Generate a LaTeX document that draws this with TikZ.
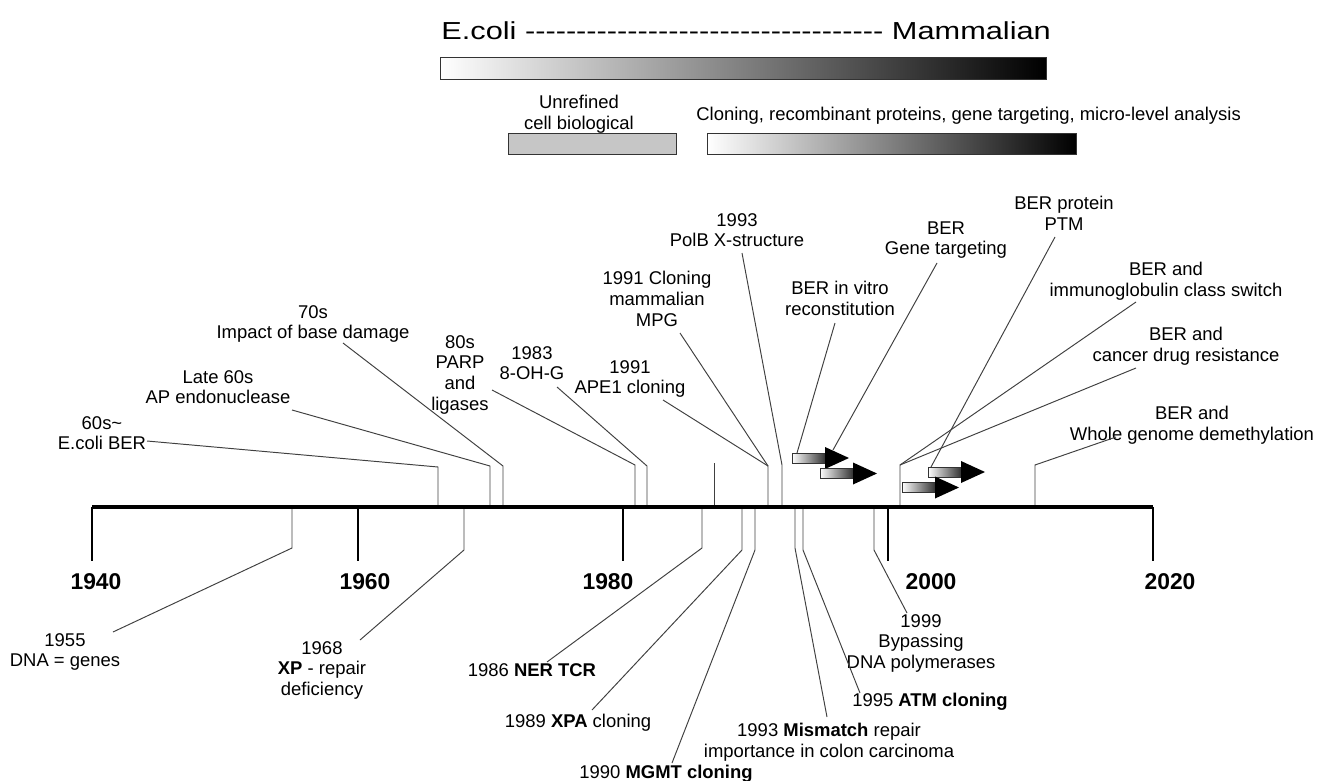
\documentclass[tikz,border=0pt]{standalone}
\usepackage{fontspec}
\usepackage{graphicx}
\setmainfont{Liberation Sans}
\newcommand\dashrow[1]{\foreach \i in {1,...,#1}{\hbox{-}}}

\begin{document}
\begin{tikzpicture}[x=0.02cm, y=-0.02cm,
  lbl/.style={align=center, inner sep=0pt, anchor=north, font=\fontsize{10.5}{11.8}\selectfont},
  yr/.style={inner sep=0pt, font=\fontsize{13}{15}\selectfont\bfseries},
  lead/.style={draw=black!75, line width=0.55pt},
  tickmark/.style={line width=1.1pt},
  gbar/.style={left color=white, right color=black, draw=black!80, line width=0.5pt},
  shaft/.style={left color=white, right color=black!80, draw=black!80, line width=0.4pt}]
  \useasboundingbox (0,0) rectangle (1319,781);

  \node[anchor=base west, inner sep=0pt, font=\fontsize{14}{17}\selectfont] (title) at (441,39) {\scalebox{1.25}[1]{E.coli \dashrow{35} Mammalian}};
  \shade[gbar] (440,57) rectangle (1046,79);
  \node[lbl] (lUnref) at (579,95) {Unrefined\\cell biological};
  \fill[gray!45, draw=black!80, line width=0.5pt] (508,133) rectangle (676,154);
  \node[lbl, anchor=west] (lClone) at (696,116) {Cloning, recombinant proteins, gene targeting, micro-level analysis};
  \shade[gbar] (707,133) rectangle (1076,154);

  \coordinate (y1940) at (92,507);
  \coordinate (y2020) at (1153,507);
  \foreach \yr/\x/\lx in {1940/92/96, 1960/358/365, 1980/623/608, 2000/888/931, 2020/1153/1170} {
    \draw[tickmark] (\x,507) -- (\x,561);
    \node[yr] (t\yr) at (\lx,582) {\yr};
  }

  \node[lbl] (lEcoli) at (102,416) {60s\textasciitilde\\E.coli BER};
  \node[lbl] (lAP) at (218,370) {Late 60s\\AP endonuclease};
  \node[lbl] (l70s) at (313,305) {70s\\Impact of base damage};
  \node[lbl] (l80s) at (460,335) {80s\\PARP\\and\\ligases};
  \node[lbl] (l1983) at (532,346) {1983\\8-OH-G};
  \node[lbl] (lAPE) at (630,360) {1991\\APE1 cloning};
  \node[lbl] (lMPG) at (657,271) {1991 Cloning\\mammalian\\MPG};
  \node[lbl] (lPolB) at (737,213) {1993\\PolB X-structure};
  \node[lbl] (lVitro) at (840,281) {BER in vitro\\reconstitution};
  \node[lbl] (lTarget) at (946,221) {BER\\Gene targeting};
  \node[lbl] (lPTM) at (1064,196) {BER protein\\PTM};
  \node[lbl] (lImmuno) at (1166,262) {BER and\\immunoglobulin class switch};
  \node[lbl] (lDrug) at (1186,327) {BER and\\cancer drug resistance};
  \node[lbl] (lDemeth) at (1192,406) {BER and\\Whole genome demethylation};

  \node[lbl] (lDNA) at (65,633) {1955\\DNA = genes};
  \node[lbl] (lXP) at (322,641) {1968\\\textbf{XP} - repair\\deficiency};
  \node[lbl] (lNER) at (532,663) {1986 \textbf{NER TCR}};
  \node[lbl] (lXPA) at (578,714) {1989 \textbf{XPA} cloning};
  \node[lbl] (lMGMT) at (666,765) {1990 \textbf{MGMT cloning}};
  \node[lbl] (lMMR) at (829,723) {1993 \textbf{Mismatch} repair\\importance in colon carcinoma};
  \node[lbl] (lATM) at (930,693) {1995 \textbf{ATM cloning}};
  \node[lbl] (lBypass) at (921,614) {1999\\Bypassing\\DNA polymerases};

  \coordinate (sEcoli) at (147,441);  \coordinate (kEcoli) at (438,467);
  \coordinate (sAP) at (292,410);     \coordinate (kAP) at (490,466);
  \coordinate (s70s) at (343,343);    \coordinate (k70s) at (503,466);
  \coordinate (s80s) at (492,390);    \coordinate (k80s) at (635,465);
  \coordinate (s1983) at (557,387);   \coordinate (k1983) at (647,466);
  \coordinate (sAPE) at (663,400);    \coordinate (kMPG) at (768,466);
  \coordinate (sMPG) at (680,333);    \coordinate (kLone) at (714,463);
  \coordinate (sPolB) at (742,253);   \coordinate (kPolB) at (782,465);
  \coordinate (sVitro) at (835,323);  \coordinate (eVitro) at (797,453);
  \coordinate (sTarget) at (937,263); \coordinate (eTarget) at (833,450);
  \coordinate (sPTM) at (1055,237);   \coordinate (ePTM) at (931,467);
  \coordinate (sImmuno) at (1136,302); \coordinate (kBER) at (900,465);
  \coordinate (sDrug) at (1136,368);
  \coordinate (sDemeth) at (1116,437); \coordinate (kDemeth) at (1035,465);

  \foreach \n in {Ecoli, AP, 70s, 80s, 1983, PolB, Demeth}
    \draw[lead] (s\n) -- (k\n) -- (k\n |- y1940);
  \draw[lead] (sAPE) -- (kMPG) -- (kMPG |- y1940);
  \draw[lead] (sMPG) -- (kMPG);
  \draw[lead] (kLone) -- (kLone |- y1940);
  \draw[lead] (sVitro) -- (eVitro);
  \draw[lead] (sTarget) -- (eTarget);
  \draw[lead] (sPTM) -- (ePTM);
  \draw[lead] (sImmuno) -- (kBER) -- (kBER |- y1940);
  \draw[lead] (sDrug) -- (kBER);

  \coordinate (sDNA) at (113,632);  \coordinate (kDNA) at (292,548);
  \coordinate (sXP) at (360,640);   \coordinate (kXP) at (464,550);
  \coordinate (sNER) at (547,662);  \coordinate (kNER) at (702,548);
  \coordinate (sXPA) at (592,710);  \coordinate (kXPA) at (742,550);
  \coordinate (sMGMT) at (672,763); \coordinate (kMGMT) at (755,550);
  \coordinate (sMMR) at (827,717);  \coordinate (kMMR) at (795,548);
  \coordinate (sATM) at (860,693);  \coordinate (kATM) at (803,550);
  \coordinate (sBypass) at (907,613); \coordinate (kBypass) at (874,550);
  \foreach \n in {DNA, XP, NER, XPA, MGMT, MMR, ATM, Bypass}
    \draw[lead] (s\n) -- (k\n) -- (k\n |- y1940);

  \foreach \x/\y in {792/458, 820/473.5, 928/472, 902/487.5} {
    \shade[shaft] (\x,\y-5) rectangle (\x+33,\y+5);
    \fill (\x+33,\y-11) -- (\x+57,\y) -- (\x+33,\y+11) -- cycle;
  }

  \draw[line width=2.8pt] (y1940) -- (y2020);
\end{tikzpicture}
\end{document}
